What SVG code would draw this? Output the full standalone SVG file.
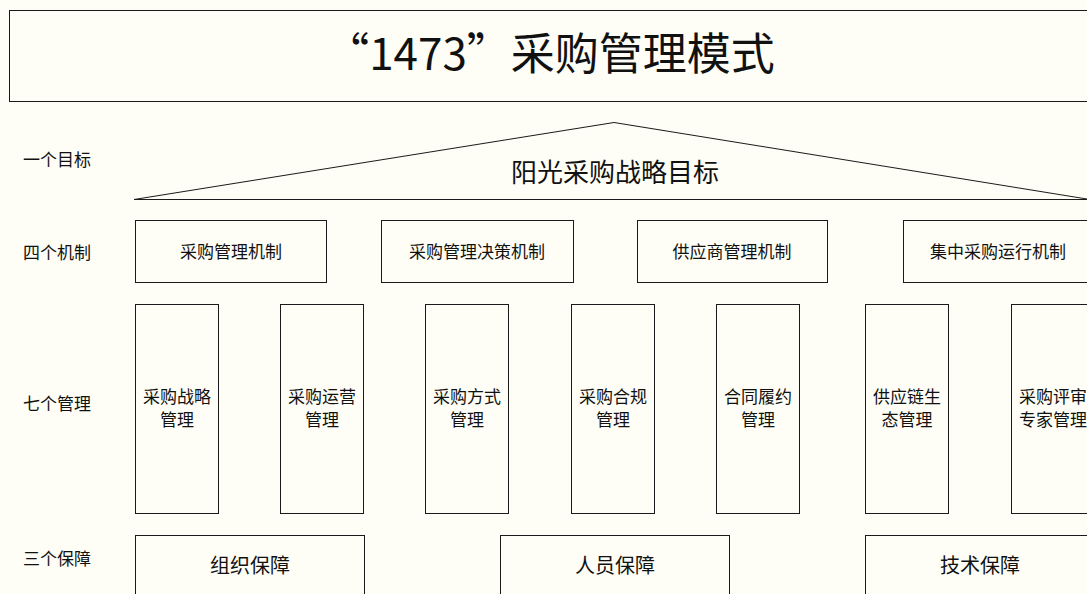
<svg xmlns="http://www.w3.org/2000/svg" width="1087" height="594" viewBox="0 0 1087 594">
<style>
.bx{fill:none;stroke:#1a1a1a;stroke-width:1}
.t{font-family:"Noto Sans CJK SC","Noto Sans",sans-serif;fill:#111;text-anchor:middle;dominant-baseline:central}
.lb{font-size:17px;text-anchor:start}
.m{font-size:17px}
.g{font-size:20px}
</style>
<rect width="1087" height="594" fill="#fefef6"/>
<g id="title">
<rect class="bx" x="9.5" y="10.5" width="1110" height="91"/>
<text class="t" x="550" y="51" font-size="44">“1473”采购管理模式</text>
</g>
<g id="labels">
<text class="t lb" x="23" y="158.5">一个目标</text>
<text class="t lb" x="23" y="251.5">四个机制</text>
<text class="t lb" x="23" y="402.5">七个管理</text>
<text class="t lb" x="23" y="557.5">三个保障</text>
</g>
<g id="goal">
<polygon class="bx" points="134,199.5 614,122.5 1090,199.5"/>
<text class="t" x="615" y="170.5" font-size="26">阳光采购战略目标</text>
</g>
<g id="mech1"><rect class="bx" x="135.5" y="220.5" width="191" height="62"/><text class="t m" x="231" y="250.5">采购管理机制</text></g>
<g id="mech2"><rect class="bx" x="381.5" y="220.5" width="192" height="62"/><text class="t m" x="477" y="250.5">采购管理决策机制</text></g>
<g id="mech3"><rect class="bx" x="637.5" y="220.5" width="190" height="62"/><text class="t m" x="732" y="250.5">供应商管理机制</text></g>
<g id="mech4"><rect class="bx" x="903.5" y="220.5" width="200" height="62"/><text class="t m" x="998" y="250.5">集中采购运行机制</text></g>
<g id="mgmt1"><rect class="bx" x="135.5" y="304.5" width="83" height="209"/><text class="t m" x="177" y="395.5">采购战略</text><text class="t m" x="177" y="418.5">管理</text></g>
<g id="mgmt2"><rect class="bx" x="280.5" y="304.5" width="83" height="209"/><text class="t m" x="322" y="395.5">采购运营</text><text class="t m" x="322" y="418.5">管理</text></g>
<g id="mgmt3"><rect class="bx" x="425.5" y="304.5" width="83" height="209"/><text class="t m" x="467" y="395.5">采购方式</text><text class="t m" x="467" y="418.5">管理</text></g>
<g id="mgmt4"><rect class="bx" x="571.5" y="304.5" width="83" height="209"/><text class="t m" x="613" y="395.5">采购合规</text><text class="t m" x="613" y="418.5">管理</text></g>
<g id="mgmt5"><rect class="bx" x="716.5" y="304.5" width="83" height="209"/><text class="t m" x="758" y="395.5">合同履约</text><text class="t m" x="758" y="418.5">管理</text></g>
<g id="mgmt6"><rect class="bx" x="865.5" y="304.5" width="83" height="209"/><text class="t m" x="907" y="395.5">供应链生</text><text class="t m" x="907" y="418.5">态管理</text></g>
<g id="mgmt7"><rect class="bx" x="1011.5" y="304.5" width="83" height="209"/><text class="t m" x="1053" y="395.5">采购评审</text><text class="t m" x="1053" y="418.5">专家管理</text></g>
<g id="guar1"><rect class="bx" x="135.5" y="535.5" width="229" height="70"/><text class="t g" x="250" y="564.5">组织保障</text></g>
<g id="guar2"><rect class="bx" x="500.5" y="535.5" width="229" height="70"/><text class="t g" x="615" y="564.5">人员保障</text></g>
<g id="guar3"><rect class="bx" x="865.5" y="535.5" width="229" height="70"/><text class="t g" x="980" y="564.5">技术保障</text></g>
<g id="connectors"></g>
</svg>
